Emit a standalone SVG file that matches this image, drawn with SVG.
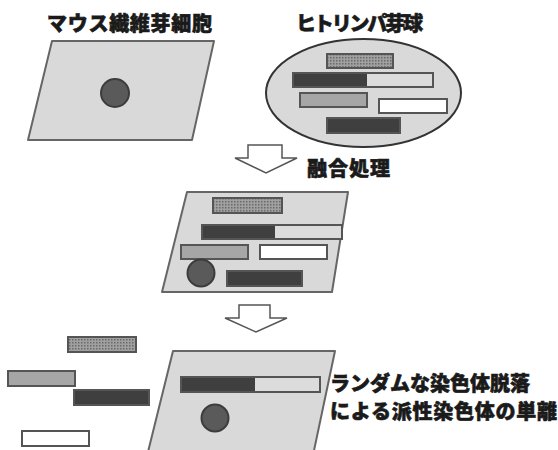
<svg xmlns="http://www.w3.org/2000/svg" width="558" height="450" viewBox="0 0 558 450">
  <style>
    .lbl { font-family: "Noto Sans CJK JP", "Noto Sans", sans-serif; font-weight: 900; font-size: 20px; fill: #1a1a1a; stroke: #1a1a1a; stroke-width: 0.6; }
    .cell { fill: #d9d9d9; stroke: #666; stroke-width: 2; stroke-linejoin: round; }
    .nuc { fill: #5a5a5a; stroke: #3c3c3c; stroke-width: 2; }
    .bar { stroke: #555; stroke-width: 2; }
    .dark { fill: #3f3f3f; }
    .light { fill: #dcdcdc; }
    .mid { fill: #a6a6a6; }
    .white { fill: #ffffff; }
    .dots { fill: url(#dotfill); }
    .arrow { fill: #ffffff; stroke: #555; stroke-width: 1.5; stroke-linejoin: miter; }
  </style>
  <defs>
    <pattern id="dotfill" width="3" height="3" patternUnits="userSpaceOnUse">
      <rect width="3" height="3" fill="#a0a0a0"/>
      <rect width="1.5" height="1.5" fill="#6a6a6a"/>
    </pattern>
  </defs>

  <rect width="558" height="450" fill="#ffffff"/>

  <!-- mouse fibroblast -->
  <g id="mouse-cell">
    <text class="lbl" x="47" y="31" textLength="165">マウス繊維芽細胞</text>
    <polygon class="cell" points="52,41 214,41 192,140 28,140"/>
    <circle class="nuc" cx="115" cy="93" r="14"/>
  </g>

  <!-- human lymphoblast -->
  <g id="human-cell">
    <text class="lbl" x="296" y="31" textLength="127">ヒトリンパ芽球</text>
    <ellipse cx="363.5" cy="93" rx="97.5" ry="54" fill="#d9d9d9" stroke="#333" stroke-width="2"/>
    <rect class="bar dots" x="327" y="54" width="66" height="14"/>
    <rect class="bar light" x="293" y="73" width="140" height="14"/>
    <rect class="dark" x="294" y="74" width="73" height="12"/>
    <rect class="bar mid" x="300" y="93" width="67" height="14"/>
    <rect class="bar white" x="379" y="99" width="68" height="14"/>
    <rect class="bar dark" x="327" y="118" width="73" height="15"/>
  </g>

  <!-- connectors -->
  <g id="connectors">
    <polygon class="arrow" points="248,145 282,145 282,158 297,158 266,173 235,158 248,158"/>
    <polygon class="arrow" points="239,305 270,305 270,318 287,318 256,332 225,318 239,318"/>
  </g>

  <g id="fusion-label">
    <text class="lbl" x="307" y="176" textLength="83">融合処理</text>
  </g>

  <!-- hybrid cell -->
  <g id="hybrid-cell">
    <polygon class="cell" points="187,192 348,192 332,292 162,292"/>
    <rect class="bar dots" x="213" y="198" width="69" height="15"/>
    <rect class="bar light" x="202" y="225" width="140" height="14"/>
    <rect class="dark" x="203" y="226" width="72" height="12"/>
    <rect class="bar mid" x="181" y="245" width="67" height="14"/>
    <rect class="bar white" x="260" y="245" width="67" height="14"/>
    <circle class="nuc" cx="201" cy="273" r="13.5"/>
    <rect class="bar dark" x="227" y="271" width="75" height="15"/>
  </g>

  <!-- chromosomes lost -->
  <g id="lost-chromosomes">
    <rect class="bar dots" x="68" y="337" width="68" height="15"/>
    <rect class="bar mid" x="8" y="371" width="67" height="15"/>
    <rect class="bar dark" x="74" y="390" width="75" height="15"/>
    <rect class="bar white" x="22" y="431" width="67" height="15"/>
  </g>

  <!-- isolated hybrid -->
  <g id="isolated-cell">
    <polygon class="cell" points="173,351 335,351 312,460 146,460"/>
    <rect class="bar light" x="181" y="377" width="139" height="15"/>
    <rect class="dark" x="182" y="378" width="73" height="13"/>
    <circle class="nuc" cx="215" cy="418" r="13.5"/>
  </g>

  <g id="result-label">
    <text class="lbl" x="330" y="391" textLength="200">ランダムな染色体脱落</text>
    <text class="lbl" x="330" y="419" textLength="227">による派性染色体の単離</text>
  </g>
</svg>
